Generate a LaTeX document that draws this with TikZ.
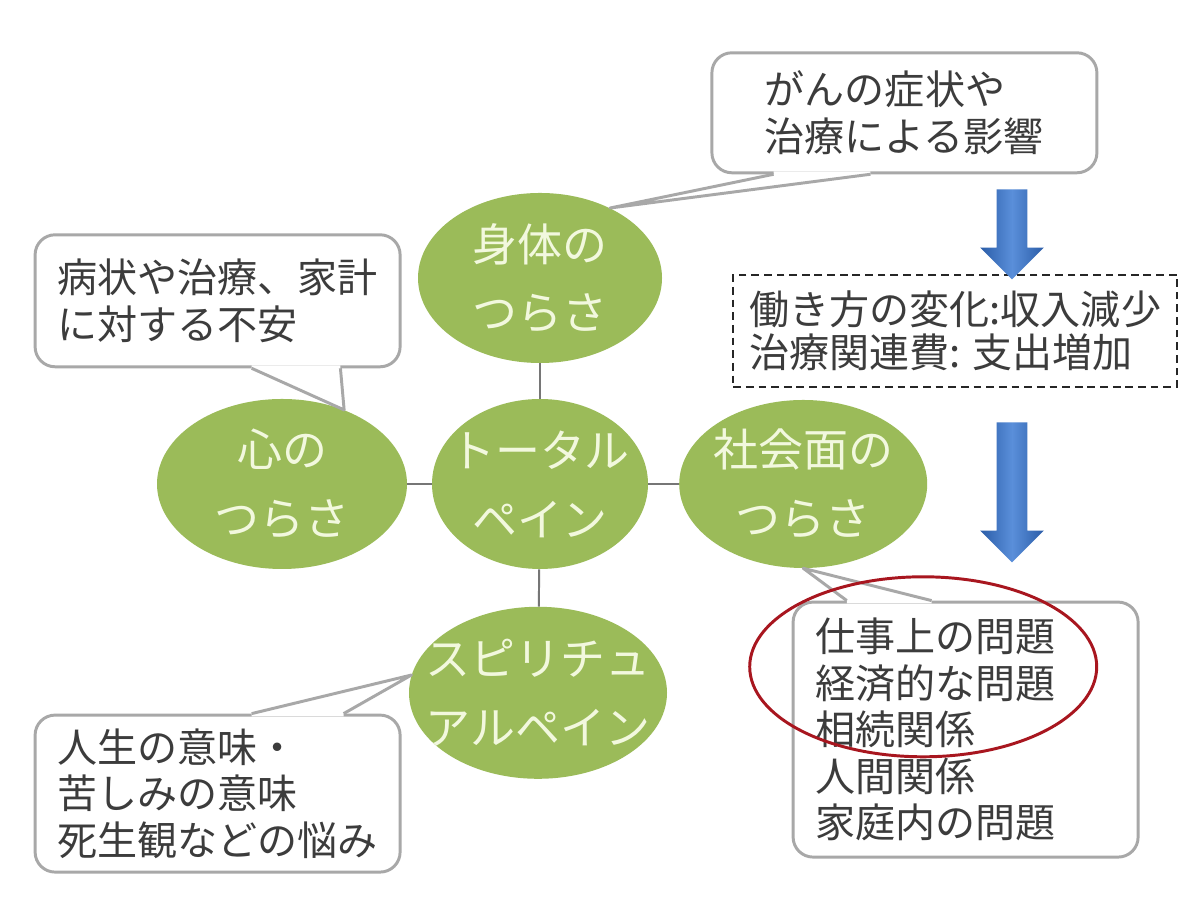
\documentclass[tikz,border=0pt]{standalone}
\usepackage{fontspec}
\usepackage{tikz}
\usetikzlibrary{calc,positioning,shapes.geometric,shapes.arrows}
\newfontfamily\jpfont{Noto Sans CJK JP}
\definecolor{Leaf}{HTML}{9BBB59}
\definecolor{Cream}{HTML}{F2F8DE}
\definecolor{Ink}{HTML}{3C3C3C}
\definecolor{Frame}{HTML}{A8A8A8}
\definecolor{Stem}{HTML}{767676}
\definecolor{Ocean}{HTML}{5A8FDA}
\definecolor{Deep}{HTML}{2B5DA8}
\definecolor{Wine}{HTML}{A8161F}

\begin{document}
\begin{tikzpicture}[x=1cm,y=1cm,
    pain/.style={ellipse,fill=Leaf,text=Cream,align=center,inner xsep=-4cm,inner ysep=-3cm,font=\jpfont\fontsize{32}{49}\selectfont},
    bubble/.style={draw=Frame,line width=2.1pt,fill=white,rounded corners=0.5cm,align=left,inner sep=0pt,text=Ink,font=\jpfont\fontsize{28.5}{33}\selectfont},
    tail/.style={draw=Frame,line width=2.1pt,line join=round},
    link/.style={draw=Stem,line width=1.4pt},
    bluearrow/.style={single arrow,rotate=-90,inner xsep=0pt,inner ysep=0.375cm,single arrow head extend=0.4125cm,left color=Deep,right color=Deep,middle color=Ocean}
  ]
    \fill[white] (0,0) rectangle (30,22.5);
    \useasboundingbox (0,0) rectangle (30,22.5);

    % the five kinds of pain
    \node[pain,minimum width=5.4cm,minimum height=4.25cm] (total) at (13.50,10.40) {トータル\\ペイン};
    \node[pain,minimum width=6.1cm,minimum height=4.25cm] (body) at (13.50,15.55) {身体の\\つらさ};
    \node[pain,minimum width=6.25cm,minimum height=4.25cm] (mind) at (7.05,10.40) {心の\\つらさ};
    \node[pain,minimum width=6.2cm,minimum height=4.2cm] (social) at (20.08,10.40) {社会面の\\つらさ};
    \node[pain,minimum width=6.45cm,minimum height=4.3cm] (spirit) at (13.45,5.18) {スピリチュ\\アルペイン};
    \foreach \n in {body,mind,social,spirit}{\draw[link] (total) -- (\n);}

    % speech bubbles
    \node[bubble,minimum width=9.625cm,minimum height=3.0cm] (cancer) at (22.61,19.68) {がんの症状や\\治療による影響};
    \node[bubble,minimum width=9.125cm,minimum height=3.3cm] (worry) at (5.44,14.98) {病状や治療、家計\\に対する不安};
    \node[bubble,minimum width=9.125cm,minimum height=3.925cm] (meaning) at (5.44,2.66) {人生の意味・\\苦しみの意味\\死生観などの悩み};
    \node[bubble,minimum width=8.625cm,minimum height=6.375cm,text width=7.525cm,inner xsep=0.55cm] (issues) at (24.14,4.26) {仕事上の問題\\経済的な問題\\相続関係\\人間関係\\家庭内の問題};
    \foreach \bx/\corner/\pa/\pb/\tip/\inw in {cancer/south west/1.58/4.00/body.45/0.07, worry/south west/5.45/7.67/mind.50/0.07, meaning/north west/5.45/7.75/spirit.172/-0.07, issues/north west/1.38/3.50/social.south/-0.07}{
      \fill[white] ($(\bx.\corner)+(\pa,\inw)$) -- ($(\bx.\corner)+(\pa,0)$) -- (\tip) -- ($(\bx.\corner)+(\pb,0)$) -- ($(\bx.\corner)+(\pb,\inw)$) -- cycle;
      \draw[tail] ($(\bx.\corner)+(\pa,0)$) -- (\tip) -- ($(\bx.\corner)+(\pb,0)$);
    }

    % money side
    \node[draw=black!85,dash pattern=on 5.5pt off 3.5pt,line width=1.4pt,minimum width=11.1cm,minimum height=2.8cm,inner sep=0pt,align=left,text=Ink,font=\jpfont\fontsize{28.5}{31}\selectfont] (money) at (23.88,14.23) {働き方の変化:収入減少\\治療関連費: 支出増加};
    \node[bluearrow,minimum height=2.25cm] (arrA) at (25.30,16.83) {};
    \node[bluearrow,minimum height=3.5cm] (arrB) at (25.30,10.38) {};

    \node[draw=Wine,line width=2.1pt,ellipse,minimum width=8.675cm,minimum height=4.5cm,inner sep=0pt] (focus) at (23.08,5.83) {};
  \end{tikzpicture}
\end{document}
